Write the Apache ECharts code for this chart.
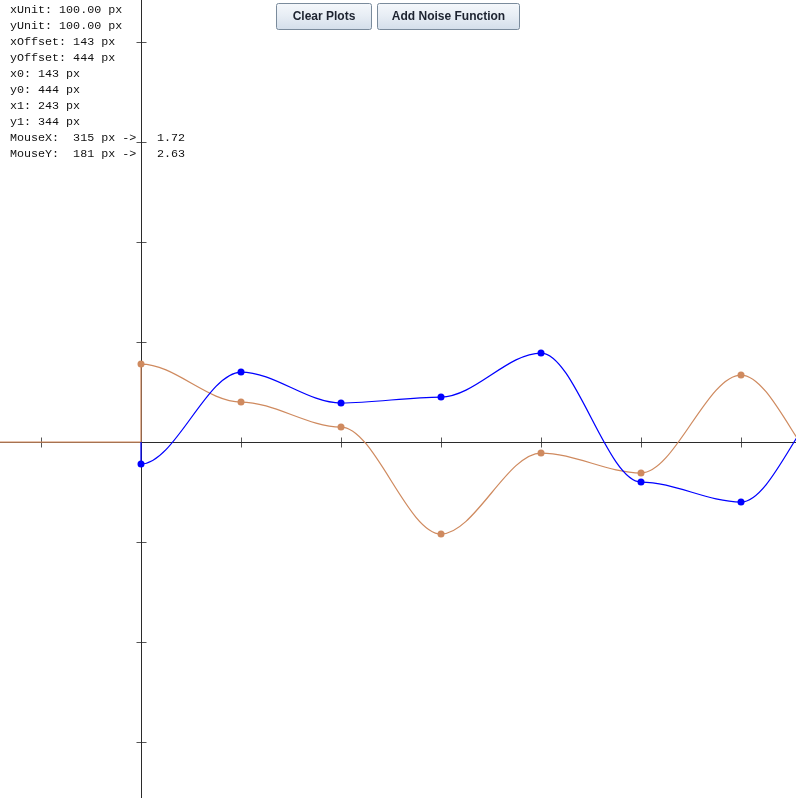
<!DOCTYPE html>
<html>
<head>
<meta charset="utf-8">
<title>plot</title>
<script src="https://cdn.jsdelivr.net/npm/echarts@6/dist/echarts.min.js"></script>
<style>
    html, body { margin: 0; padding: 0; background: #fff; }
    #chart { width: 796px; height: 798px; }
</style>
</head>
<body>
<div id="chart"></div>
<script>
// Data points (x in units, one unit = 100 px)
const pointX = [0, 1, 2, 3, 4, 5, 6, 7, 8];
const blueValues = [-0.22, 0.70, 0.39, 0.45, 0.89, -0.40, -0.60, 0.50, 0.60];
const orangeValues = [0.78, 0.40, 0.15, -0.92, -0.11, -0.31, 0.67, -0.40, 0.00];

// lead-in segments drawn before the first point
const blueLead = [[0, 0]];
const orangeLead = [[-1.41, 0], [0, 0]];

// tick positions
const xTicks = [-1, 1, 2, 3, 4, 5, 6];
const yTicks = [4, 3, 2, 1, -1, -2, -3];

// info panel text
const infoLines = [
    'xUnit: 100.00 px',
    'yUnit: 100.00 px',
    'xOffset: 143 px',
    'yOffset: 444 px',
    'x0: 143 px',
    'y0: 444 px',
    'x1: 243 px',
    'y1: 344 px',
    'MouseX:  315 px ->',
    'MouseY:  181 px ->'
];
const mouseValues = ['1.72', '2.63'];
const buttonLabels = ['Clear Plots', 'Add Noise Function'];

const CONFIG = {
    X_MIN: -1.41,
    X_MAX: 6.55,
    Y_MIN: -3.56,
    Y_MAX: 4.42,
    AXIS_COLOR: '#2b2b2b',
    BLUE: '#0000ff',
    ORANGE: '#cf8a5f',
    SMOOTH: 1 / 3
};

function curveData(lead, values) {
    const data = lead.map(p => ({value: p, symbol: 'none'}));
    values.forEach((v, i) => data.push([pointX[i], v]));
    return data;
}

function curveSeries(name, lead, values, color) {
    return {
        name: name,
        type: 'line',
        data: curveData(lead, values),
        smooth: CONFIG.SMOOTH,
        smoothMonotone: 'x',
        symbol: 'circle',
        symbolSize: 7,
        showSymbol: true,
        clip: true,
        silent: true,
        z: 5,
        lineStyle: {color: color, width: 1.25},
        itemStyle: {color: color},
        animation: false
    };
}

// buttons
const buttonBoxes = [
    {x: 276, w: 95},
    {x: 377, w: 142}
];
const graphics = [];
buttonBoxes.forEach((b, i) => {
    graphics.push({
        type: 'rect',
        shape: {x: b.x + 0.5, y: 3.5, width: b.w, height: 26, r: 2},
        style: {
            fill: new echarts.graphic.LinearGradient(0, 0, 0, 1, [
                {offset: 0, color: '#f5f8fb'},
                {offset: 0.45, color: '#e8eef5'},
                {offset: 1, color: '#d3deea'}
            ]),
            stroke: '#7a8b9c',
            lineWidth: 1
        },
        z: 10
    });
    graphics.push({
        type: 'text',
        x: b.x + b.w / 2 + 0.5,
        y: 16.5,
        style: {
            text: buttonLabels[i],
            font: 'bold 12px "Liberation Sans", Arial, sans-serif',
            fill: '#1d2330',
            align: 'center',
            verticalAlign: 'middle'
        },
        z: 11
    });
});

// info text
infoLines.forEach((line, i) => {
    graphics.push({
        type: 'text',
        x: 10,
        y: 10 + i * 16,
        style: {
            text: line,
            font: '11.7px "Liberation Mono", monospace',
            fill: '#111',
            verticalAlign: 'middle'
        },
        z: 10
    });
});
mouseValues.forEach((v, i) => {
    graphics.push({
        type: 'text',
        x: 157,
        y: 10 + (8 + i) * 16,
        style: {
            text: v,
            font: '11.7px "Liberation Mono", monospace',
            fill: '#111',
            verticalAlign: 'middle'
        },
        z: 10
    });
});

const chart = echarts.init(document.getElementById('chart'), null, {renderer: 'canvas'});

const option = {
    animation: false,
    backgroundColor: '#fff',
    grid: {left: 0, right: 0, top: 0, bottom: 0, containLabel: false},
    xAxis: {
        type: 'value',
        min: CONFIG.X_MIN,
        max: CONFIG.X_MAX,
        axisLine: {show: true, onZero: true, lineStyle: {color: CONFIG.AXIS_COLOR, width: 1}},
        axisTick: {show: false},
        axisLabel: {show: false},
        splitLine: {show: false}
    },
    yAxis: {
        type: 'value',
        min: CONFIG.Y_MIN,
        max: CONFIG.Y_MAX,
        axisLine: {show: true, onZero: true, lineStyle: {color: CONFIG.AXIS_COLOR, width: 1}},
        axisTick: {show: false},
        axisLabel: {show: false},
        splitLine: {show: false}
    },
    series: [
        {
            name: 'xTicks',
            type: 'scatter',
            data: xTicks.map(v => [v, 0]),
            symbol: 'rect',
            symbolSize: [1, 10],
            symbolOffset: [0.5, 0.5],
            itemStyle: {color: CONFIG.AXIS_COLOR},
            silent: true,
            z: 1
        },
        {
            name: 'yTicks',
            type: 'scatter',
            data: yTicks.map(v => [0, v]),
            symbol: 'rect',
            symbolSize: [10, 1],
            symbolOffset: [0.5, 0.5],
            itemStyle: {color: CONFIG.AXIS_COLOR},
            silent: true,
            z: 1
        },
        curveSeries('orange', orangeLead, orangeValues, CONFIG.ORANGE),
        curveSeries('blue', blueLead, blueValues, CONFIG.BLUE)
    ],
    graphic: graphics
};

chart.setOption(option);
</script>
</body>
</html>
